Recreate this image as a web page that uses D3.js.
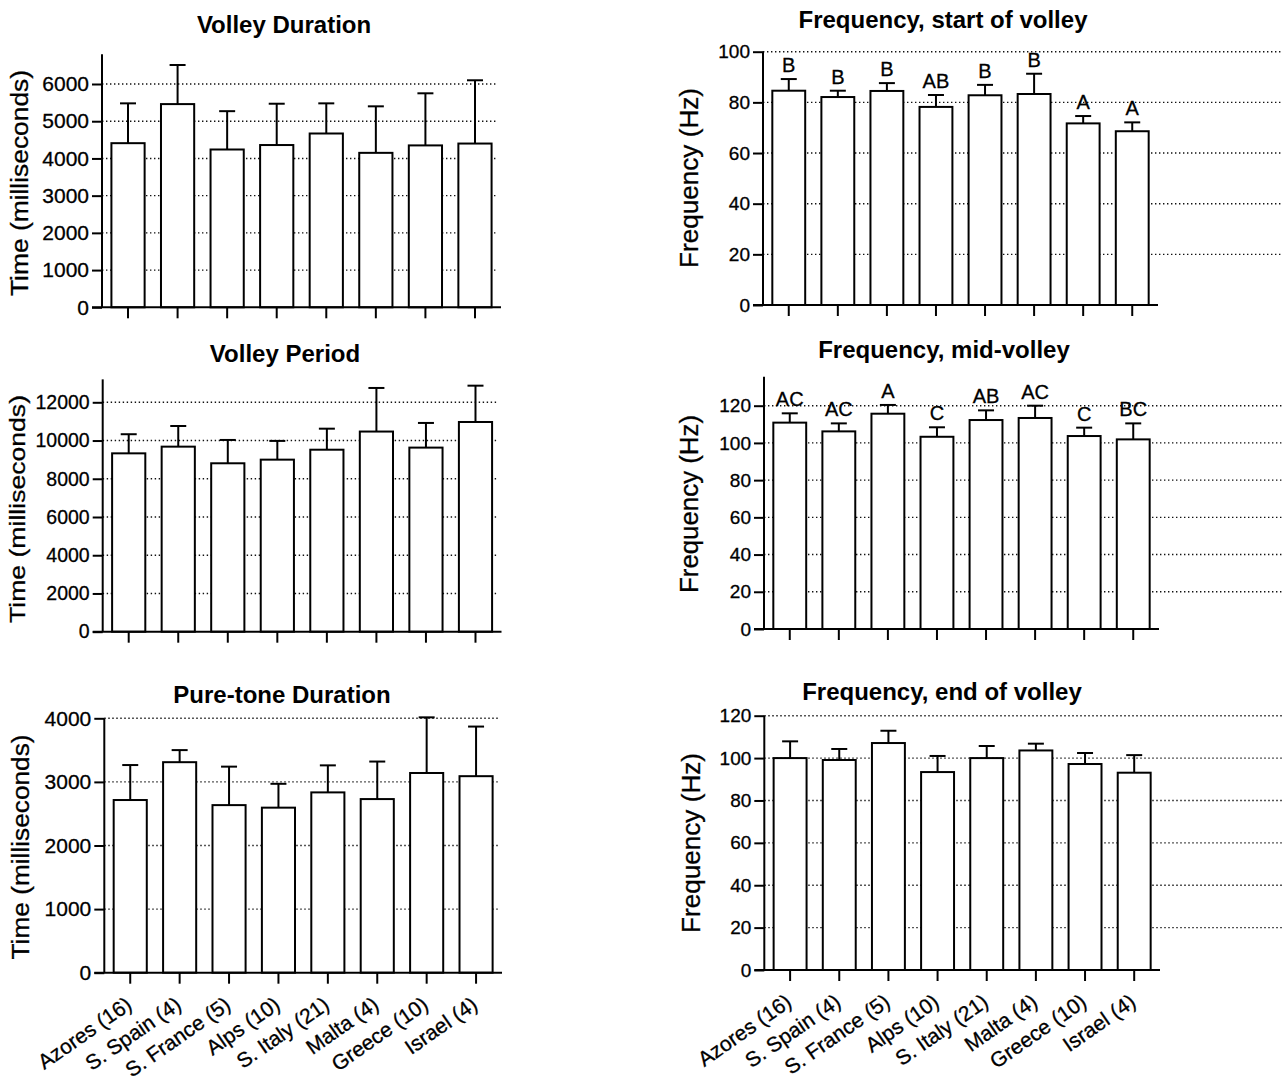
<!DOCTYPE html>
<html>
<head>
<meta charset="utf-8">
<script src="https://cdn.jsdelivr.net/npm/d3@7"></script>
<style>
  body { margin: 0; background: #fff; }
  svg { display: block; font-family: "Liberation Sans", Arial, sans-serif; }
  text { fill: #000; }
</style>
</head>
<body>
<svg width="1283" height="1083"></svg>
<script>
var categories = ["Azores (16)", "S. Spain (4)", "S. France (5)", "Alps (10)", "S. Italy (21)", "Malta (4)", "Greece (10)", "Israel (4)"];

// means and SD (upper error bar) per population
var volleyDuration = [4410, 5460, 4240, 4360, 4670, 4150, 4350, 4400];
var volleyDurationSD = [1070, 1050, 1030, 1110, 810, 1250, 1400, 1700];

var volleyPeriod = [9330, 9680, 8810, 9000, 9520, 10470, 9630, 10970];
var volleyPeriodSD = [1000, 1080, 1220, 980, 1100, 2280, 1290, 1900];

var pureTone = [2715, 3310, 2635, 2595, 2835, 2730, 3140, 3090];
var pureToneSD = [550, 190, 605, 375, 425, 590, 875, 780];

var freqStart = [84.6, 82.1, 84.5, 78.2, 82.8, 83.3, 71.7, 68.6];
var freqStartSD = [4.6, 2.5, 3.1, 4.7, 4.1, 8.0, 2.9, 3.5];
var freqStartGroups = ["B", "B", "B", "AB", "B", "B", "A", "A"];

var freqMid = [110.9, 106.2, 115.7, 103.3, 112.3, 113.4, 103.7, 101.9];
var freqMidSD = [5.0, 4.3, 4.7, 5.1, 5.2, 6.6, 4.5, 8.6];
var freqMidGroups = ["AC", "AC", "A", "C", "AB", "AC", "C", "BC"];

var freqEnd = [100.0, 99.1, 107.1, 93.4, 100.0, 103.6, 97.2, 93.1];
var freqEndSD = [7.9, 5.2, 5.8, 7.6, 5.7, 3.2, 5.2, 8.3];

var msTicks1 = [0, 1000, 2000, 3000, 4000, 5000, 6000];
var msTicks2 = [0, 2000, 4000, 6000, 8000, 10000, 12000];
var msTicks3 = [0, 1000, 2000, 3000, 4000];
var hzTicks1 = [0, 20, 40, 60, 80, 100];
var hzTicks2 = [0, 20, 40, 60, 80, 100, 120];

var svg = d3.select('svg');

function drawPanel(p) {
    var g = svg.append('g');
    var topTick = p.ticks[p.ticks.length - 1];

    var x = d3.scaleBand()
        .domain(categories)
        .range([p.x0, p.x1])
        .paddingInner(0.33)
        .paddingOuter(0.19);

    var y = d3.scaleLinear()
        .domain([0, topTick])
        .range([p.y0, p.yTop]);

    // dotted grid
    g.selectAll('line.grid')
        .data(p.ticks.filter(function(t) { return t > 0; }))
        .enter().append('line')
        .attr('x1', p.x0).attr('x2', p.gridEnd)
        .attr('y1', function(d) { return y(d); })
        .attr('y2', function(d) { return y(d); })
        .style('stroke', '#111')
        .style('stroke-width', 1.4)
        .style('stroke-dasharray', '1.4,2.6');

    // y axis
    var ax = g.append('g')
        .attr('transform', 'translate(' + p.x0 + ',0)')
        .call(d3.axisLeft(y).tickValues(p.ticks).tickSize(10).tickPadding(3).tickFormat(d3.format('d')));
    ax.select('.domain').remove();
    ax.selectAll('line').style('stroke', '#000').style('stroke-width', 2);
    ax.selectAll('text')
        .style('font-family', '"Liberation Sans", Arial, sans-serif')
        .style('font-size', p.tickFont + 'px')
        .style('fill', '#000')
        .style('stroke', '#000')
        .style('stroke-width', 0.3);

    g.append('line')
        .attr('x1', p.x0).attr('x2', p.x0)
        .attr('y1', y(0)).attr('y2', y(p.axisTop))
        .style('stroke', '#000').style('stroke-width', 2);

    // bars
    g.selectAll('rect.bar')
        .data(p.values)
        .enter().append('rect')
        .attr('x', function(d, i) { return x(categories[i]); })
        .attr('y', function(d) { return y(d); })
        .attr('width', x.bandwidth())
        .attr('height', function(d) { return y(0) - y(d); })
        .style('fill', '#fff')
        .style('stroke', '#000')
        .style('stroke-width', 2);

    // error bars (upper only)
    var cx = function(i) { return x(categories[i]) + x.bandwidth() / 2; };
    g.selectAll('line.err')
        .data(p.values)
        .enter().append('line')
        .attr('x1', function(d, i) { return cx(i); })
        .attr('x2', function(d, i) { return cx(i); })
        .attr('y1', function(d) { return y(d); })
        .attr('y2', function(d, i) { return y(d + p.sd[i]); })
        .style('stroke', '#000').style('stroke-width', 2);
    g.selectAll('line.cap')
        .data(p.values)
        .enter().append('line')
        .attr('x1', function(d, i) { return cx(i) - 8; })
        .attr('x2', function(d, i) { return cx(i) + 8; })
        .attr('y1', function(d, i) { return y(d + p.sd[i]); })
        .attr('y2', function(d, i) { return y(d + p.sd[i]); })
        .style('stroke', '#000').style('stroke-width', 2);

    if (p.groups) {
        g.selectAll('text.grp')
            .data(p.groups)
            .enter().append('text')
            .attr('x', function(d, i) { return cx(i); })
            .attr('y', function(d, i) { return y(p.values[i] + p.sd[i]) - 7; })
            .attr('text-anchor', 'middle')
            .style('font-size', '20px')
            .style('stroke', '#000').style('stroke-width', 0.3)
            .text(function(d) { return d; });
    }

    // x axis line and ticks
    g.append('line')
        .attr('x1', p.x0 - 10).attr('x2', p.x1)
        .attr('y1', y(0)).attr('y2', y(0))
        .style('stroke', '#000').style('stroke-width', 2);
    g.selectAll('line.xt')
        .data(categories)
        .enter().append('line')
        .attr('x1', function(d) { return x(d) + x.bandwidth() / 2; })
        .attr('x2', function(d) { return x(d) + x.bandwidth() / 2; })
        .attr('y1', y(0)).attr('y2', y(0) + 11)
        .style('stroke', '#000').style('stroke-width', 2);

    if (p.showLabels) {
        g.selectAll('text.xl')
            .data(categories)
            .enter().append('text')
            .attr('transform', function(d) {
                return 'translate(' + (x(d) + x.bandwidth() / 2 + 3) + ',' + (y(0) + 35) + ') rotate(-35)';
            })
            .attr('text-anchor', 'end')
            .style('font-size', '21px')
            .style('stroke', '#000').style('stroke-width', 0.3)
            .text(function(d) { return d; });
    }

    g.append('text')
        .attr('x', p.titleX).attr('y', p.titleY)
        .attr('text-anchor', 'middle')
        .style('font-size', '24px')
        .style('font-weight', 'bold')
        .text(p.title);

    g.append('text')
        .attr('transform', 'translate(' + p.labX + ',' + p.labY + ') rotate(-90)')
        .attr('text-anchor', 'middle')
        .attr('textLength', p.labLen)
        .attr('lengthAdjust', 'spacingAndGlyphs')
        .style('font-size', p.labFont + 'px')
        .style('stroke', '#000').style('stroke-width', 0.3)
        .text(p.ylabel);
}

drawPanel({ title: 'Volley Duration', values: volleyDuration, sd: volleyDurationSD, ticks: msTicks1, axisTop: 6800,
    x0: 102, x1: 501, y0: 307.3, yTop: 84, gridEnd: 497, tickFont: 21,
    titleX: 284, titleY: 33, ylabel: 'Time (milliseconds)', labX: 28, labY: 183, labFont: 23, labLen: 226 });

drawPanel({ title: 'Volley Period', values: volleyPeriod, sd: volleyPeriodSD, ticks: msTicks2, axisTop: 13200,
    x0: 102.7, x1: 501.5, y0: 631.7, yTop: 402.3, gridEnd: 497, tickFont: 19.5,
    titleX: 285, titleY: 362, ylabel: 'Time (milliseconds)', labX: 25, labY: 509, labFont: 22, labLen: 228 });

drawPanel({ title: 'Pure-tone Duration', values: pureTone, sd: pureToneSD, ticks: msTicks3, axisTop: 4000,
    x0: 104.3, x1: 502, y0: 972.7, yTop: 718.3, gridEnd: 499, tickFont: 21, showLabels: true,
    titleX: 282, titleY: 703, ylabel: 'Time (milliseconds)', labX: 29, labY: 847, labFont: 23, labLen: 225 });

drawPanel({ title: 'Frequency, start of volley', values: freqStart, sd: freqStartSD, groups: freqStartGroups, ticks: hzTicks1, axisTop: 100,
    x0: 763, x1: 1158, y0: 305, yTop: 51.7, gridEnd: 1283, tickFont: 19,
    titleX: 943, titleY: 28, ylabel: 'Frequency (Hz)', labX: 698, labY: 178, labFont: 25, labLen: 180 });

drawPanel({ title: 'Frequency, mid-volley', values: freqMid, sd: freqMidSD, groups: freqMidGroups, ticks: hzTicks2, axisTop: 135.6,
    x0: 764, x1: 1159, y0: 629, yTop: 405.7, gridEnd: 1283, tickFont: 19,
    titleX: 944, titleY: 358, ylabel: 'Frequency (Hz)', labX: 698, labY: 504, labFont: 25, labLen: 178 });

drawPanel({ title: 'Frequency, end of volley', values: freqEnd, sd: freqEndSD, ticks: hzTicks2, axisTop: 120,
    x0: 764.3, x1: 1160, y0: 970, yTop: 715.7, gridEnd: 1283, tickFont: 19, showLabels: true,
    titleX: 942, titleY: 700, ylabel: 'Frequency (Hz)', labX: 700, labY: 843, labFont: 25, labLen: 180 });
</script>
</body>
</html>
